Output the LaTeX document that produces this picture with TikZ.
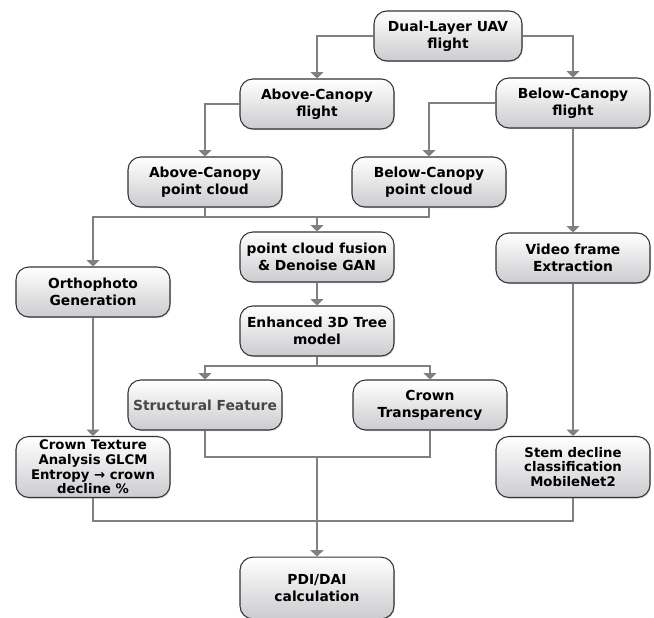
\documentclass[tikz,border=0pt]{standalone}
\usepackage{fontspec}
\setmainfont{DejaVu Sans}
\usetikzlibrary{arrows.meta, shadows}
\tikzset{box/.style={draw=black!80, line width=0.9pt, rounded corners=11pt, top color=white, bottom color=blue!8!black!20, drop shadow={opacity=0.3, shadow xshift=0.8pt, shadow yshift=-1pt}, minimum width=4.62cm, minimum height=1.5cm, inner sep=1pt, align=center, font=\fontsize{11.8}{14.4}\selectfont\bfseries}}
\tikzset{tallbox/.style={box, minimum height=1.83cm, font=\fontsize{11.3}{12.6}\selectfont\bfseries}}
\tikzset{line/.style={draw=black!50, line width=1.6pt}}
\tikzset{link/.style={line, -{Triangle[width=11pt, length=5.5pt]}}}

\begin{document}
\begin{tikzpicture}[x=0.03cm, y=-0.03cm]
            \useasboundingbox (0,0) rectangle (654,617);
            \node[box, minimum width=4.44cm] (dual) at (448,36) {Dual-Layer UAV\\flight};
            \node[box] (abovefl) at (317,104) {Above-Canopy\\flight};
            \node[box] (belowfl) at (573,103) {Below-Canopy\\flight};
            \node[box] (abovepc) at (205,182) {Above-Canopy\\point cloud};
            \node[box] (belowpc) at (429,182) {Below-Canopy\\point cloud};
            \node[box] (fusion) at (317,257) {point cloud fusion\\\& Denoise GAN};
            \node[box] (video) at (573,258) {Video frame\\Extraction};
            \node[box] (ortho) at (93,292) {Orthophoto\\Generation};
            \node[box] (model) at (317,331) {Enhanced 3D Tree\\model};
            \node[box, text=black!72] (struct) at (205,405) {Structural Feature};
            \node[box] (transp) at (430,405) {Crown\\Transparency};
            \node[tallbox] (texture) at (93,467) {Crown Texture\\Analysis GLCM\\Entropy → crown\\decline \%};
            \node[tallbox] (stem) at (573,467) {Stem decline\\classification\\MobileNet2};
            \node[box, minimum height=1.85cm] (pdi) at (317,588) {PDI/DAI\\calculation};
            \coordinate (mergepc) at (317,217);
            \coordinate (splitm) at (317,366);
            \coordinate (mergef) at (317,457);
            \coordinate (rail) at (317,521);
            \draw[link] (dual.west) -| (abovefl.north);
            \draw[link] (dual.east) -| (belowfl.north);
            \draw[link] (abovefl.west) -| (abovepc.north);
            \draw[link] (belowfl.west) -| (belowpc.north);
            \draw[link] (belowfl.south) -- (video.north);
            \draw[line] (abovepc.south) |- (mergepc);
            \draw[line] (belowpc.south) |- (mergepc);
            \draw[link] (mergepc) -- (fusion.north);
            \draw[link] (abovepc.south |- mergepc) -| (ortho.north);
            \draw[link] (fusion.south) -- (model.north);
            \draw[line] (model.south) -- (splitm);
            \draw[link] (splitm) -| (struct.north);
            \draw[link] (splitm) -| (transp.north);
            \draw[link] (ortho.south) -- (texture.north);
            \draw[link] (video.south) -- (stem.north);
            \draw[line] (struct.south) |- (mergef);
            \draw[line] (transp.south) |- (mergef);
            \draw[link] (mergef) -- (pdi.north);
            \draw[line] (texture.south) |- (rail) -| (stem.south);
        \end{tikzpicture}
\end{document}
